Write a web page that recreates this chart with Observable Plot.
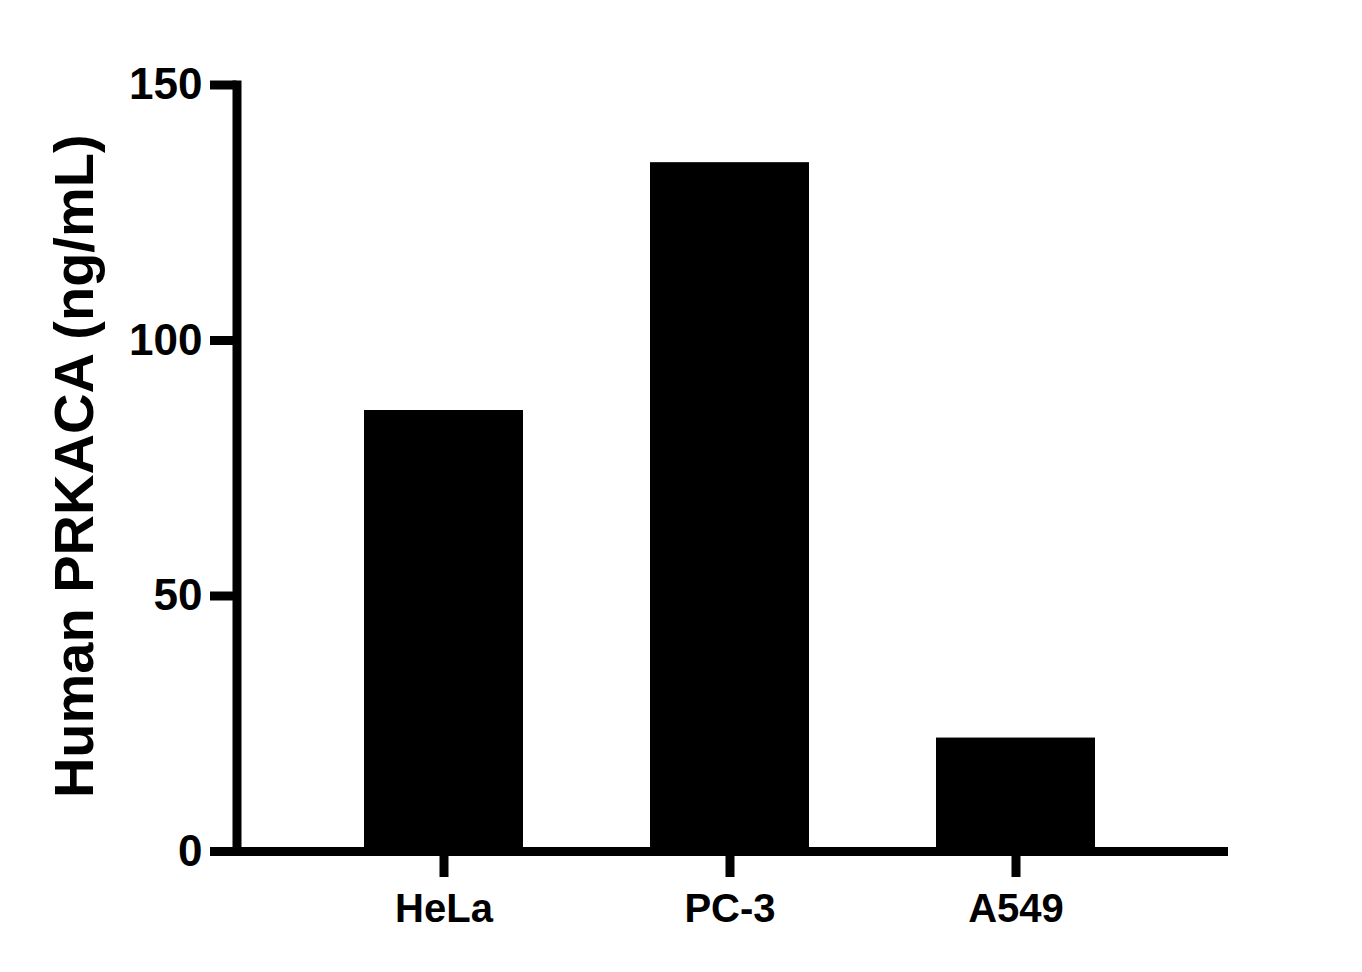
<!DOCTYPE html>
<html>
<head>
<meta charset="utf-8">
<script src="https://cdn.jsdelivr.net/npm/d3@7"></script>
<script src="https://cdn.jsdelivr.net/npm/@observablehq/plot@0.6"></script>
<style>
  html, body { margin: 0; padding: 0; background: #fff; }
  #chart svg { display: block; }
</style>
</head>
<body>
<div id="chart"></div>
<script>
const cells = ["HeLa", "PC-3", "A549"];
const values = [86.3, 134.8, 22.2];
const yTicks = [0, 50, 100, 150];
const yTitle = "Human PRKACA (ng/mL)";

const data = cells.map((c, i) => ({cell: c, value: values[i]}));

const chart = Plot.plot({
  width: 1362,
  height: 972,
  marginLeft: 236.5,
  marginRight: 134,
  marginTop: 84.5,
  marginBottom: 121,
  style: {
    fontFamily: "'Liberation Sans', Arial, sans-serif",
    fontWeight: "bold",
    color: "#000",
    background: "#fff"
  },
  x: {
    type: "band",
    domain: cells,
    paddingInner: 0.4435,
    paddingOuter: 0.4515,
    align: 0.49,
    label: null
  },
  y: {
    domain: [0, 150],
    label: null
  },
  marks: [
    Plot.barY(data, {x: "cell", y: "value", fill: "#000"}),
    Plot.ruleY([0], {stroke: "#000", strokeWidth: 9}),
    Plot.frame({anchor: "left", stroke: "#000", strokeWidth: 9, strokeLinecap: "square"}),
    Plot.axisY({
      ticks: yTicks,
      tickSize: 26.5,
      tickPadding: 8,
      strokeWidth: 9,
      fontSize: 44,
      fontWeight: "bold",
      label: null
    }),
    Plot.axisX({
      tickSize: 26,
      tickPadding: 16,
      strokeWidth: 9,
      fontSize: 40,
      fontWeight: "bold",
      label: null
    }),
    Plot.text([yTitle], {
      frameAnchor: "left",
      rotate: -90,
      dx: -162,
      dy: -2,
      fontSize: 56,
      fontWeight: "bold",
      fill: "#000",
      textAnchor: "middle",
      lineAnchor: "middle"
    })
  ]
});

document.getElementById("chart").appendChild(chart);
</script>
</body>
</html>
